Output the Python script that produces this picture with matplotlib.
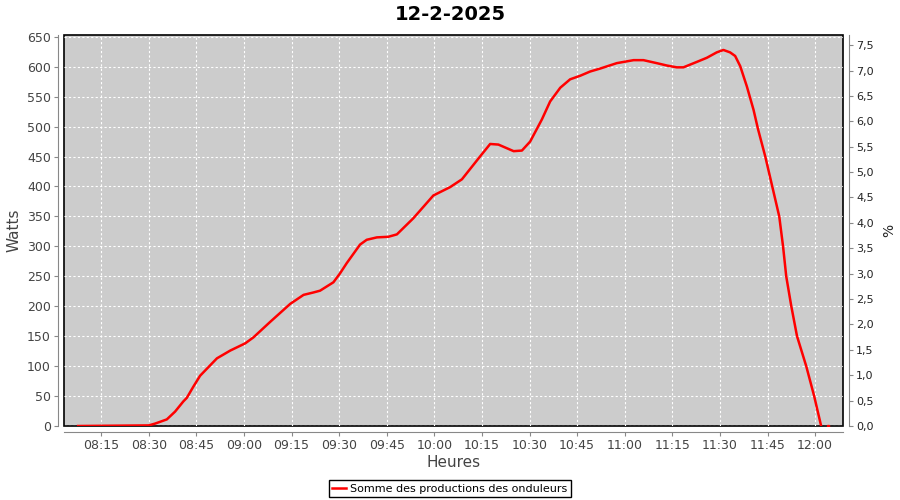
import matplotlib
matplotlib.use("Agg")
import matplotlib.pyplot as plt
from matplotlib.ticker import FuncFormatter, MultipleLocator

# Minutes écoulées depuis 08:00 et puissance (W)
minutes = [7.75, 30.0, 32.0, 35.7, 38.3, 40.9, 42.0, 44.1, 46.2, 51.5, 55.7,
           60.4, 63.0, 68.3, 74.6, 78.8, 81.9, 84.0, 86.1, 88.2, 90.3, 92.4,
           96.6, 98.7, 101.9, 105.5, 108.2, 113.4, 119.7, 125.0, 128.7,
           134.4, 137.6, 140.2, 145.0, 147.6, 150.2, 153.9, 156.5, 159.7,
           162.8, 166.0, 169.1, 172.3, 177.5, 182.8, 185.9, 190.1, 193.3,
           196.4, 198.5, 202.7, 205.9, 209.0, 211.1, 213.2, 214.8, 216.4,
           218.5, 220.6, 222.0, 224.3, 226.5, 228.7, 229.9, 230.9, 232.5,
           234.3, 237.2, 239.7, 241.9]
watts = [0, 1, 4, 11, 24, 41, 47, 66, 84, 113, 126,
         138, 148, 174, 204, 219, 223, 226, 233, 240, 255, 272,
         303, 311, 315, 316, 320, 347, 385, 399, 412,
         450, 471, 470, 459, 460, 475, 512, 542, 565,
         579, 585, 592, 597, 606, 611, 611, 606, 602,
         599, 599, 608, 615, 624, 628, 624, 618, 601,
         567, 528, 496, 450, 400, 350, 300, 250, 200,
         150, 100, 50, 0]
dernier_point = (244.1, 0)

titre = "12-2-2025"
serie = "Somme des productions des onduleurs"

fig = plt.figure(figsize=(9, 5), dpi=100)
ax = fig.add_axes([0.0711, 0.148, 0.8656, 0.782])
ax.set_facecolor("#cccccc")
ax.patch.set_edgecolor("black")
ax.patch.set_linewidth(1.2)

ax.plot(minutes, watts, color="red", linewidth=1.8, label=serie)
ax.plot([dernier_point[0]], [dernier_point[1]], marker="s", markersize=2,
        color="red", linestyle="none")

ax.set_xlim(3.3, 248.8)
ax.set_ylim(0, 653)
ax.xaxis.set_major_locator(MultipleLocator(15))
ax.yaxis.set_major_locator(MultipleLocator(50))
ax.xaxis.set_major_formatter(FuncFormatter(
    lambda v, p: "%02d:%02d" % (8 + int(v) // 60, int(v) % 60)))
ax.grid(True, color="white", linestyle=(0, (2, 2)), linewidth=0.8)

for s in ["top", "right"]:
    ax.spines[s].set_visible(False)
for s in ["left", "bottom"]:
    ax.spines[s].set_position(("outward", 4))
    ax.spines[s].set_color("#888888")
ax.tick_params(colors="#888888", labelcolor="#444444", labelsize=9, length=3, pad=2.5)

ax.set_xlabel("Heures", fontsize=11, color="#444444", labelpad=2)
ax.set_ylabel("Watts", fontsize=11, color="#444444", labelpad=4)

# Axe de droite en %
ax2 = ax.twinx()
ax2.set_ylim(0, 7.70)
ax2.yaxis.set_major_locator(MultipleLocator(0.5))
ax2.yaxis.set_major_formatter(FuncFormatter(lambda v, p: ("%.1f" % v).replace(".", ",")))
for s in ["top", "left", "bottom"]:
    ax2.spines[s].set_visible(False)
ax2.spines["right"].set_position(("outward", 4))
ax2.spines["right"].set_color("#888888")
ax2.tick_params(colors="#888888", labelcolor="#222222", labelsize=8, length=3, pad=2.5)
ax2.set_ylabel("%", fontsize=10, color="#222222", labelpad=6)

fig.suptitle(titre, fontsize=14, fontweight="bold", y=0.99)

leg = fig.legend(loc="lower center", bbox_to_anchor=(0.5, -0.006), fontsize=8,
                 fancybox=False, framealpha=1, edgecolor="black",
                 handlelength=1.2, handletextpad=0.4, borderpad=0.35)
leg.get_frame().set_linewidth(1)

plt.savefig("out.png", dpi=100)
